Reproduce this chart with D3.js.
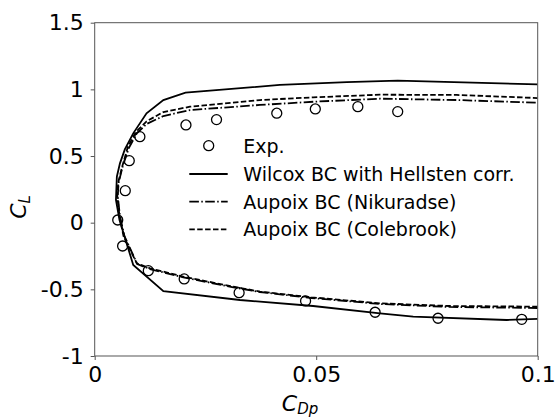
<!DOCTYPE html>
<html>
<head>
<meta charset="utf-8">
<script src="https://cdn.jsdelivr.net/npm/d3@7"></script>
<style>
  body { margin: 0; background: #fff; }
  svg { font-family: "DejaVu Sans", sans-serif; }
</style>
</head>
<body>
<div class="chart"></div>
<script>
// experimental polar points
const expCd = [0.0052, 0.0063, 0.0069, 0.0078, 0.0102, 0.0206, 0.0275, 0.0411, 0.0498, 0.0594, 0.0684,
               0.0121, 0.0202, 0.0326, 0.0476, 0.0633, 0.0775, 0.0964];
const expCl = [0.02, -0.175, 0.24, 0.465, 0.645, 0.733, 0.773, 0.821, 0.853, 0.87, 0.833,
               -0.36, -0.422, -0.525, -0.587, -0.672, -0.717, -0.725];

// Wilcox BC with Hellsten corr.
const wilcoxCd = [0.1, 0.093, 0.0719, 0.0644, 0.0493, 0.0328, 0.0155, 0.0087, 0.0056, 0.0048, 0.005,
                  0.0057, 0.0068, 0.0087, 0.0117, 0.0155, 0.0205, 0.0418, 0.0569, 0.0684, 0.1];
const wilcoxCl = [-0.722, -0.73, -0.705, -0.68, -0.625, -0.58, -0.513, -0.317, 0.02, 0.17, 0.345,
                  0.445, 0.55, 0.67, 0.82, 0.92, 0.976, 1.033, 1.055, 1.065, 1.038];

// Aupoix BC (Nikuradse)
const nikCd = [0.1, 0.08, 0.0645, 0.049, 0.0373, 0.0313, 0.02, 0.0125, 0.0096, 0.0067, 0.0057, 0.0052,
               0.0054, 0.0063, 0.0077, 0.0095, 0.0117, 0.0155, 0.0215, 0.0373, 0.0493, 0.0644, 0.0817, 0.1];
const nikCl = [-0.64, -0.632, -0.61, -0.565, -0.52, -0.485, -0.41, -0.348, -0.31, -0.1, 0.05, 0.2,
               0.3, 0.42, 0.56, 0.67, 0.74, 0.8, 0.845, 0.883, 0.907, 0.93, 0.92, 0.9];

// Aupoix BC (Colebrook)
const coleCd = [0.1, 0.08, 0.0645, 0.049, 0.0373, 0.0313, 0.02, 0.0125, 0.0095, 0.0065, 0.0056, 0.0051,
                0.0053, 0.0062, 0.0075, 0.0093, 0.0117, 0.0155, 0.0215, 0.0373, 0.0493, 0.0644, 0.0817, 0.1];
const coleCl = [-0.63, -0.625, -0.605, -0.56, -0.517, -0.48, -0.405, -0.342, -0.305, -0.1, 0.05, 0.2,
                0.3, 0.42, 0.57, 0.68, 0.76, 0.83, 0.87, 0.92, 0.94, 0.96, 0.958, 0.935];

const xTicks = [0, 0.05, 0.1];
const xTickLabels = ["0", "0.05", "0.1"];
const yTicks = [-1, -0.5, 0, 0.5, 1, 1.5];
const yTickLabels = ["-1", "-0.5", "0", "0.5", "1", "1.5"];
const legendLabels = ["Exp.", "Wilcox BC with Hellsten corr.", "Aupoix BC (Nikuradse)", "Aupoix BC (Colebrook)"];

const margin = {top: 22.7, right: 17.3, bottom: 62, left: 94.7};
const W = 555, H = 418;
const width = W - margin.left - margin.right,
      height = H - margin.top - margin.bottom;

const svg = d3.select(".chart").append("svg")
  .attr("width", W)
  .attr("height", H);

const g = svg.append("g")
  .attr("transform", `translate(${margin.left},${margin.top})`);

const x = d3.scaleLinear().domain([0, 0.1]).range([0, width]);
const y = d3.scaleLinear().domain([-1, 1.5]).range([height, 0]);

const defs = svg.append("defs");
defs.append("clipPath").attr("id", "clip")
  .append("rect").attr("width", width).attr("height", height);

const line = d3.line().x(d => x(d[0])).y(d => y(d[1]));

const series = [
  {cd: wilcoxCd, cl: wilcoxCl, dash: null},
  {cd: nikCd, cl: nikCl, dash: "9.6,2.4,1.5,2.4"},
  {cd: coleCd, cl: coleCl, dash: "5.5,2.4"}
];

const plot = g.append("g").attr("clip-path", "url(#clip)");

series.forEach(s => {
  plot.append("path")
    .datum(s.cd.map((c, i) => [c, s.cl[i]]))
    .attr("d", line)
    .attr("fill", "none")
    .attr("stroke", "#000")
    .attr("stroke-width", 1.8)
    .attr("stroke-dasharray", s.dash);
});

g.append("g").selectAll("circle")
  .data(expCd.map((c, i) => [c, expCl[i]]))
  .enter()
  .append("circle")
  .attr("cx", d => x(d[0]))
  .attr("cy", d => y(d[1]))
  .attr("r", 5)
  .attr("fill", "none")
  .attr("stroke", "#000")
  .attr("stroke-width", 1.3);

// frame
g.append("rect")
  .attr("width", width).attr("height", height)
  .attr("fill", "none").attr("stroke", "#555").attr("stroke-width", 1);

const xAxis = d3.axisBottom(x).tickValues(xTicks)
  .tickFormat((d, i) => xTickLabels[i]).tickSize(4).tickPadding(6);
const yAxis = d3.axisLeft(y).tickValues(yTicks)
  .tickFormat((d, i) => yTickLabels[i]).tickSize(4).tickPadding(7);

const gx = g.append("g").attr("transform", `translate(0,${height})`).call(xAxis);
const gy = g.append("g").call(yAxis);
[gx, gy].forEach(a => {
  a.select(".domain").remove();
  a.selectAll("line").attr("stroke", "#555");
  a.selectAll("text").attr("font-size", 22).attr("fill", "#000")
    .attr("font-family", "DejaVu Sans");
});

// axis labels
const xl = svg.append("text")
  .attr("x", 300).attr("y", 411)
  .attr("text-anchor", "middle")
  .attr("font-size", 22);
xl.append("tspan").attr("font-style", "italic").text("C");
xl.append("tspan").attr("font-style", "italic").attr("font-size", 15).attr("dy", 3).text("Dp");

const yl = svg.append("text")
  .attr("transform", "translate(26,207) rotate(-90)")
  .attr("text-anchor", "middle")
  .attr("font-size", 22);
yl.append("tspan").attr("font-style", "italic").text("C");
yl.append("tspan").attr("font-style", "italic").attr("font-size", 15).attr("dy", 4).text("L");

// legend
const legY = [145.7, 174, 201.7, 229.3];
const leg = svg.append("g");
leg.append("circle")
  .attr("cx", 208.7).attr("cy", legY[0]).attr("r", 5)
  .attr("fill", "none").attr("stroke", "#000").attr("stroke-width", 1.3);
series.forEach((s, i) => {
  leg.append("line")
    .attr("x1", 189.3).attr("x2", 227.7)
    .attr("y1", legY[i + 1]).attr("y2", legY[i + 1])
    .attr("stroke", "#000").attr("stroke-width", 1.8)
    .attr("stroke-dasharray", s.dash);
});
leg.selectAll("text.lab")
  .data(legendLabels)
  .enter()
  .append("text")
  .attr("class", "lab")
  .attr("x", 243.3)
  .attr("y", (d, i) => legY[i])
  .attr("dy", "0.36em")
  .attr("font-size", 19)
  .text(d => d);
</script>
</body>
</html>
